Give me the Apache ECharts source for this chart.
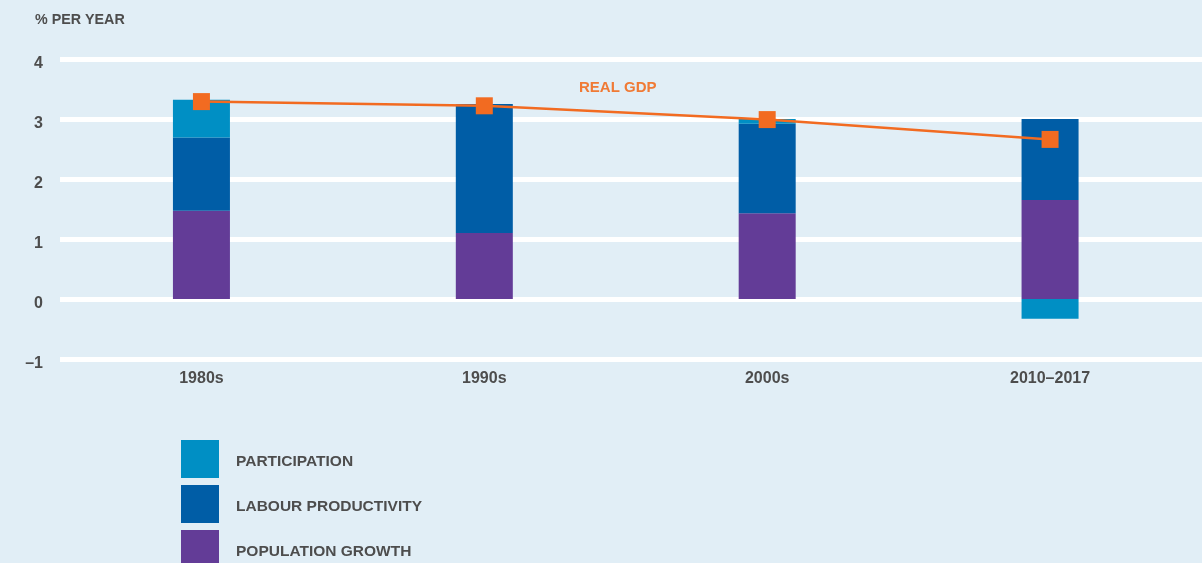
<!DOCTYPE html>
<html>
<head>
<meta charset="utf-8">
<style>
  html, body { margin: 0; padding: 0; background: #E1EEF6; }
  #chart { width: 1202px; height: 563px; }
</style>
<script src="https://cdn.jsdelivr.net/npm/echarts@6/dist/echarts.min.js"></script>
</head>
<body>
<div id="chart"></div>
<script>
// Contributions to real GDP growth, % per year
const categories = ['1980s', '1990s', '2000s', '2010\u20132017'];
const populationGrowth = [1.47, 1.10, 1.43, 1.65];
const labourProductivity = [1.22, 2.15, 1.49, 1.35];
const participation = [0.63, 0.00, 0.08, -0.33];
const realGdp = [3.29, 3.22, 2.99, 2.66];
const yMin = -1, yMax = 4, yStep = 1;

const FONT = '"Liberation Sans", Arial, sans-serif';
const TEXT = '#4d4d4d';
const COLORS = {
  participation: '#008FC4',
  labour: '#005DA6',
  population: '#633C97',
  gdp: '#F26B21'
};

const legendItem = (name, top) => ({
  orient: 'vertical',
  left: 176, top: top,
  itemWidth: 38, itemHeight: 38,
  icon: 'rect',
  data: [name],
  formatter: '{t|{name}}',
  textStyle: {
    fontFamily: FONT, fontSize: 15.5, fontWeight: 'bold', color: TEXT,
    padding: [0, 0, 0, 12],
    rich: { t: { fontFamily: FONT, fontSize: 15.5, fontWeight: 'bold', color: TEXT, padding: [6, 0, 0, 0] } }
  }
});

const chart = echarts.init(document.getElementById('chart'));
chart.setOption({
  backgroundColor: '#E1EEF6',
  animation: false,
  textStyle: { fontFamily: FONT },
  title: {
    text: '% PER YEAR',
    left: 30, top: 8,
    textStyle: { fontFamily: FONT, fontSize: 14.3, fontWeight: 'bold', color: TEXT }
  },
  graphic: [{
    type: 'text', left: 579, top: 80,
    style: { text: 'REAL GDP', fontFamily: FONT, fontSize: 15, fontWeight: 'bold', fill: '#F07A35' }
  }],
  legend: [
    legendItem('PARTICIPATION', 435),
    legendItem('LABOUR PRODUCTIVITY', 480),
    legendItem('POPULATION GROWTH', 525)
  ],
  // grid 0: full-width gridlines and y labels; grid 1: the bars and the line
  grid: [
    { left: 60, right: 0, top: 59, height: 300 },
    { left: 60, right: 10.5, top: 59, height: 300 }
  ],
  xAxis: [
    { gridIndex: 0, type: 'value', min: 0, max: 1, show: false },
    { gridIndex: 1, type: 'category', data: categories,
      axisLine: { show: false }, axisTick: { show: false }, splitLine: { show: false },
      axisLabel: { margin: 12, fontFamily: FONT, fontSize: 16, fontWeight: 'bold', color: TEXT } }
  ],
  yAxis: [
    { gridIndex: 0, type: 'value', min: yMin, max: yMax, interval: yStep,
      axisLine: { show: false }, axisTick: { show: false },
      splitLine: { lineStyle: { color: '#FFFFFF', width: 5 } },
      axisLabel: {
        margin: 17,
        verticalAlign: 'top',
        lineHeight: 9,
        formatter: v => (v < 0 ? '\u2013' + Math.abs(v) : String(v)),
        fontFamily: FONT, fontSize: 16, fontWeight: 'bold', color: TEXT
      } },
    { gridIndex: 1, type: 'value', min: yMin, max: yMax, interval: yStep, show: false,
      splitLine: { show: false } }
  ],
  series: [
    { name: 'POPULATION GROWTH', type: 'bar', stack: 'g', barWidth: 57,
      xAxisIndex: 1, yAxisIndex: 1,
      itemStyle: { color: COLORS.population }, data: populationGrowth },
    { name: 'LABOUR PRODUCTIVITY', type: 'bar', stack: 'g', barWidth: 57,
      xAxisIndex: 1, yAxisIndex: 1,
      itemStyle: { color: COLORS.labour }, data: labourProductivity },
    { name: 'PARTICIPATION', type: 'bar', stack: 'g', barWidth: 57,
      xAxisIndex: 1, yAxisIndex: 1,
      itemStyle: { color: COLORS.participation }, data: participation },
    { name: 'REAL GDP', type: 'line', z: 5,
      xAxisIndex: 1, yAxisIndex: 1,
      symbol: 'rect', symbolSize: 17,
      lineStyle: { color: COLORS.gdp, width: 2.5 },
      itemStyle: { color: COLORS.gdp },
      data: realGdp }
  ]
});
</script>
</body>
</html>
